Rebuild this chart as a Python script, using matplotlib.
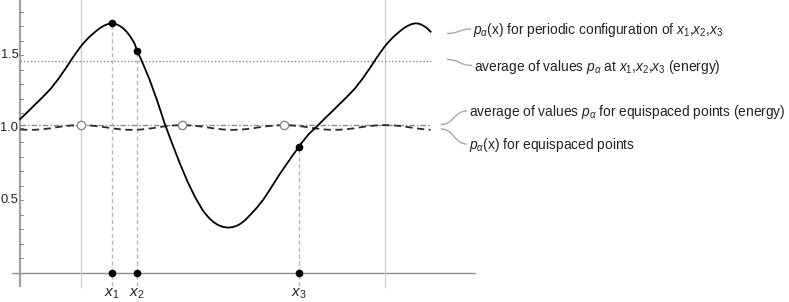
import numpy as np
import matplotlib
matplotlib.use("Agg")
import matplotlib.pyplot as plt
from matplotlib.path import Path
from matplotlib.patches import PathPatch

plt.rcParams['font.family'] = ['Liberation Sans', 'DejaVu Sans']
plt.rcParams['mathtext.fontset'] = 'custom'
plt.rcParams['mathtext.rm'] = 'Liberation Sans'
plt.rcParams['mathtext.it'] = 'Liberation Sans:italic'

# p_alpha(x) for the configuration x1,x2,x3, one period
period_x = [0.000, 0.0125, 0.025, 0.0375, 0.050, 0.0625, 0.075, 0.0875, 0.100, 0.1125,
            0.125, 0.1375, 0.150, 0.1625, 0.175, 0.185, 0.200, 0.225, 0.250, 0.275,
            0.300, 0.325, 0.350, 0.375, 0.400, 0.4125, 0.425, 0.4375, 0.450, 0.4625,
            0.475, 0.4875, 0.500, 0.5125, 0.525, 0.5375, 0.550, 0.575, 0.600, 0.625,
            0.650, 0.675, 0.700, 0.717, 0.725, 0.750, 0.775, 0.800, 0.825, 0.850,
            0.875, 0.900, 0.925, 0.950, 0.975]
period_p = [1.563, 1.593, 1.621, 1.645, 1.667, 1.687, 1.703, 1.714, 1.720, 1.717,
            1.705, 1.688, 1.662, 1.628, 1.585, 1.530, 1.460, 1.335, 1.190, 1.030,
            0.890, 0.755, 0.630, 0.522, 0.432, 0.398, 0.369, 0.347, 0.330, 0.319,
            0.313, 0.311, 0.315, 0.324, 0.338, 0.358, 0.384, 0.440, 0.505, 0.585,
            0.668, 0.745, 0.820, 0.868, 0.893, 0.958, 1.007, 1.060, 1.110, 1.162,
            1.213, 1.268, 1.335, 1.410, 1.490]

# p_alpha(x) for equispaced points, one period (1/3) in steps of 1/60
equi_p = [1.018, 1.017, 1.015, 1.011, 1.007, 1.002, 0.996, 0.992, 0.988, 0.986,
          0.985, 0.986, 0.988, 0.992, 0.996, 1.002, 1.007, 1.011, 1.015, 1.017]

conf_x = [0.102, 0.184, 0.717]
conf_p = [1.720, 1.530, 0.868]
conf_labels = ['$x_1$', '$x_2$', '$x_3$']
equi_x = [0.0, 1/3, 2/3]
energy_conf = 1.46
energy_equi = 1.018

x_lo, x_hi = -0.2, 1.15

# tile the periodic samples over the plotted range
cx, cy = [], []
for k in (-1, 0, 1):
    for a, b in zip(period_x, period_p):
        cx.append(a + k)
        cy.append(b)
cx, cy = np.array(cx), np.array(cy)
m = (cx >= x_lo - 1e-9) & (cx <= x_hi + 1e-9)
cx, cy = cx[m], cy[m]

ex, ey = [], []
for k in range(-1, 4):
    for j, v in enumerate(equi_p):
        ex.append(j / 60 + k / 3)
        ey.append(v)
ex, ey = np.array(ex), np.array(ey)
m = (ex >= x_lo - 1e-9) & (ex <= x_hi + 1e-9)
ex, ey = ex[m], ey[m]

fig = plt.figure(figsize=(7.89, 3.02), dpi=100)
ax = fig.add_axes([0, 0, 1, 1])
ax.set_xlim(-81 / 304, (789 - 81) / 304)
ax.set_ylim((272.7 - 302) / 145, 272.7 / 145)
ax.axis('off')


def px(x, y):
    # pixel position -> data coordinates (layout only)
    return ((x - 81) / 304, (272.7 - y) / 145)


# frame: axes lines and period markers
ax.plot([-0.2, -0.2], [-0.1, 1.9], color='#a0a0a0', lw=1.6, zorder=1, solid_capstyle='butt')
ax.plot([-0.227, 1.296], [0, 0], color='#8c8c8c', lw=1.0, zorder=1)
for v in (0, 1):
    ax.plot([v, v], [-0.1, 1.9], color='#d0d0d0', lw=1.0, zorder=1)

for t in np.arange(1, 19) / 10:
    ax.plot([-0.2, -0.2 + 2.5 / 304], [t, t], color='#777777', lw=0.6, zorder=2)
for t in (0.5, 1.0, 1.5):
    ax.text(-0.2056, t, f'{t:.1f}', ha='right', va='center', fontsize=9.3, color='#222222')

# reference lines
ax.plot([x_lo, x_hi], [energy_conf, energy_conf], color='#8a8a8a', lw=1.0,
        linestyle=(0, (1, 1.5)), zorder=2)
ax.plot([x_lo, x_hi], [energy_equi, energy_equi], color='#8a8a8a', lw=1.0,
        linestyle=(0, (4, 1.5, 1, 1.5)), zorder=2)

for a, b in zip(conf_x, conf_p):
    ax.plot([a, a], [-0.09, b], color='#b8b8b8', lw=1.0, linestyle=(0, (3, 2)), zorder=2)

# curves
ax.plot(ex, ey, color='#2a2a2a', lw=1.3, linestyle=(0, (4, 2.5)), zorder=3)
ax.plot(cx, cy, color='black', lw=1.3, zorder=4)

ax.plot(equi_x, [energy_equi] * len(equi_x), 'o', ms=6, mfc='white', mec='#8a8a8a',
        mew=1.0, zorder=5)
ax.plot(conf_x, conf_p, 'o', ms=4.5, color='black', zorder=5)
ax.plot(conf_x, [0] * len(conf_x), 'o', ms=4.5, color='black', zorder=5)

for a, lab in zip(conf_x, conf_labels):
    ax.text(a, -0.145, lab, ha='center', va='center', fontsize=11, color='#222222')

# callouts
callouts = [
    ((447, 33.5), (471, 29), '$p_\\alpha$(x) for periodic configuration of $x_1$,$x_2$,$x_3$'),
    ((447, 59.5), (472, 65.5), 'average of values $p_\\alpha$ at $x_1$,$x_2$,$x_3$ (energy)'),
    ((441, 124.5), (467, 111), 'average of values $p_\\alpha$ for equispaced points (energy)'),
    ((441, 129), (467, 144), '$p_\\alpha$(x) for equispaced points'),
]
for (x0, y0), (x1, y1), txt in callouts:
    xm = (x0 + x1) / 2
    verts = [px(x0, y0), px(xm, y0), px(xm, y1), px(x1, y1)]
    path = Path(verts, [Path.MOVETO, Path.CURVE4, Path.CURVE4, Path.CURVE4])
    ax.add_patch(PathPatch(path, fill=False, edgecolor='#a8a8a8', lw=1.0, zorder=2))
    tx, ty = px(x1 + 2, y1 + 1)
    ax.text(tx, ty, txt, ha='left', va='center', fontsize=9.9, color='#222222')

fig.savefig('out.png', dpi=100)
